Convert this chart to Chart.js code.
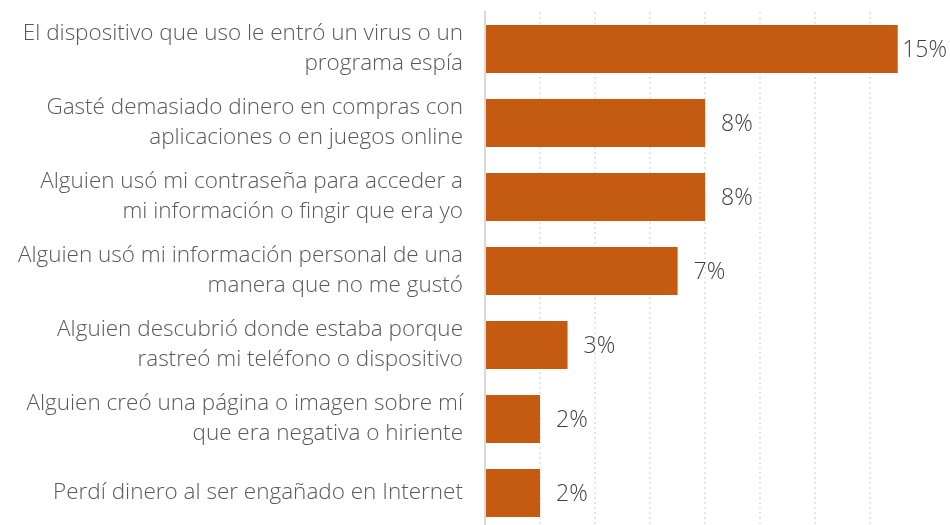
<!DOCTYPE html>
<html>
<head>
<meta charset="utf-8">
<script src="https://cdn.jsdelivr.net/npm/chart.js@4.4.1/dist/chart.umd.min.js"></script>
<style>
  html, body { margin: 0; padding: 0; background: #fff; overflow: hidden; }
  #wrap { width: 950px; height: 530px; position: relative; }
</style>
</head>
<body>
<div id="wrap"><canvas id="myChart"></canvas></div>
<script>
// categories (multi-line as in the source)
var categories = [
  ["El dispositivo que uso le entró un virus o un", "programa espía"],
  ["Gasté demasiado dinero en compras con", "aplicaciones o en juegos online"],
  ["Alguien usó mi contraseña para acceder a", "mi información o fingir que era yo"],
  ["Alguien usó mi información personal de una", "manera que no me gustó"],
  ["Alguien descubrió donde estaba porque", "rastreó mi teléfono o dispositivo"],
  ["Alguien creó una página o imagen sobre mí", "que era negativa o hiriente"],
  ["Perdí dinero al ser engañado en Internet"]
];
var values = [15, 8, 8, 7, 3, 2, 2];

var barColor = '#C55A11';

// value labels at the end of each bar
const barValueLabels = {
  id: 'barValueLabels',
  afterDatasetsDraw(chart) {
    const ctx = chart.ctx;
    const meta = chart.getDatasetMeta(0);
    ctx.save();
    ctx.font = '300 23px "Open Sans"';
    ctx.fillStyle = '#404040';
    ctx.textBaseline = 'middle';
    ctx.textAlign = 'left';
    meta.data.forEach((bar, i) => {
      const txt = chart.data.datasets[0].data[i] + '%';
      const w = ctx.measureText(txt).width;
      let x = bar.x + 16;
      if (x + w > chart.width - 3) x = chart.width - 3 - w;
      ctx.fillText(txt, x, bar.y + 1);
    });
    ctx.restore();
  }
};

var ctx = document.getElementById('myChart').getContext('2d');
var chart1 = new Chart(ctx, {
  type: 'bar',
  data: {
    labels: categories,
    datasets: [{
      data: values,
      backgroundColor: barColor,
      borderWidth: 0,
      barPercentage: 0.65,
      categoryPercentage: 1
    }]
  },
  options: {
    indexAxis: 'y',
    responsive: true,
    maintainAspectRatio: false,
    animation: false,
    layout: { padding: { top: 12, right: 0, bottom: 0, left: 0 } },
    plugins: {
      legend: { display: false },
      tooltip: { enabled: false }
    },
    scales: {
      x: {
        min: 0,
        max: 16.9,
        ticks: { display: false, stepSize: 2 },
        grid: {
          drawTicks: false,
          lineWidth: 2,
          color: (c) => (c.tick && c.tick.value > 0 && c.tick.value % 2 === 0) ? '#e6e6e6' : 'rgba(0,0,0,0)'
        },
        border: { display: false, dash: [2, 3] },
        afterFit: (scale) => { scale.height = 0; }
      },
      y: {
        grid: { display: false, drawTicks: false },
        border: { display: true, color: '#d9d9d9', width: 2 },
        ticks: {
          padding: 22,
          color: '#595959',
          font: { family: '"Open Sans"', weight: '300', size: 22.5, lineHeight: 1.34 }
        },
        afterFit: (scale) => {
          scale.width = 485;
          scale.paddingTop = 0;
          scale.paddingBottom = 0;
        }
      }
    }
  },
  plugins: [barValueLabels]
});
</script>
</body>
</html>
